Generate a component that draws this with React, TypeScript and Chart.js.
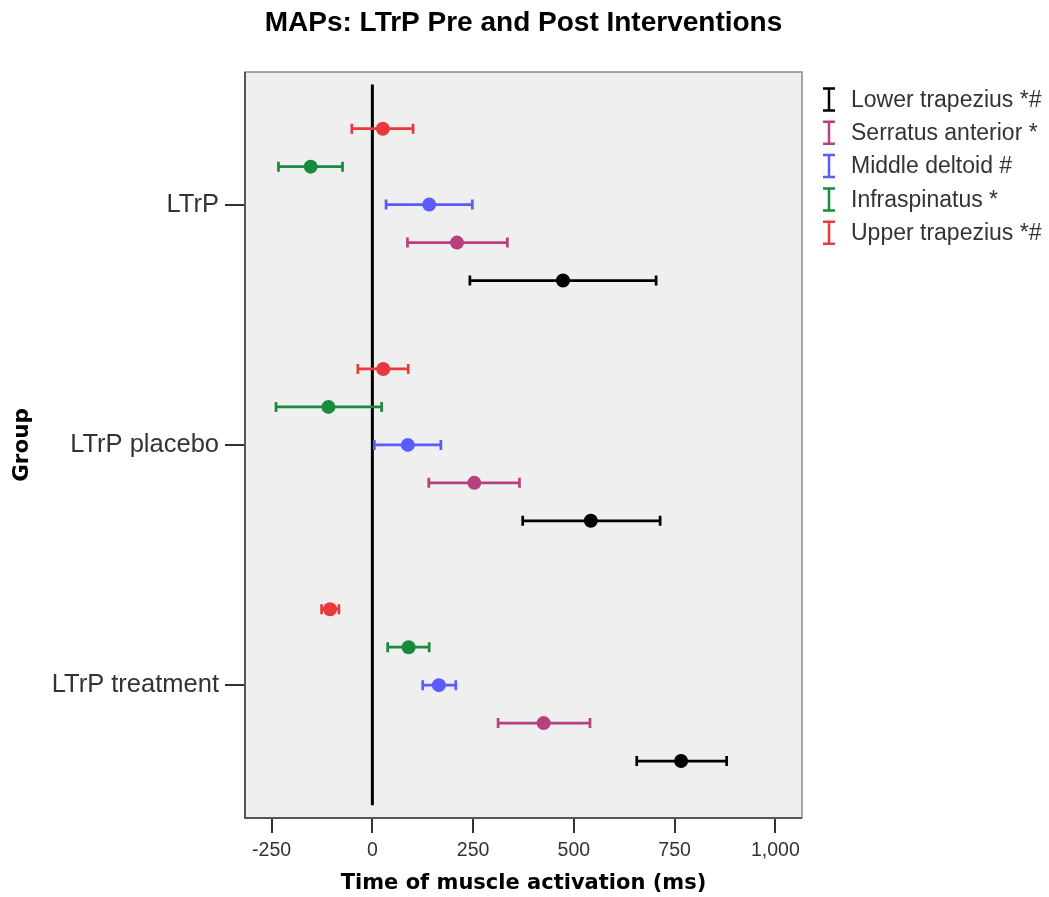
import React, { useEffect, useRef } from "react";
import { Chart, registerables } from "chart.js";

Chart.register(...registerables);

// ---- Data ----
const groups = ["LTrP", "LTrP placebo", "LTrP treatment"];
// series drawn top-to-bottom within each group
const seriesNames = ["Upper trapezius *#", "Infraspinatus *", "Middle deltoid #", "Serratus anterior *", "Lower trapezius *#"];
const seriesColors = ["#e8393c", "#1a8a3f", "#5b5bff", "#b7417f", "#000000"];
// values per group: [LTrP, LTrP placebo, LTrP treatment]
const upperTrapMean = [26, 27, -105];
const upperTrapLow = [-51, -36, -126];
const upperTrapHigh = [101, 89, -83];
const infraMean = [-153, -109, 90];
const infraLow = [-233, -239, 38];
const infraHigh = [-74, 23, 141];
const midDeltMean = [141, 88, 165];
const midDeltLow = [34, 5, 125];
const midDeltHigh = [248, 170, 207];
const serratusMean = [210, 253, 425];
const serratusLow = [87, 140, 312];
const serratusHigh = [335, 365, 540];
const lowerTrapMean = [473, 542, 766];
const lowerTrapLow = [242, 373, 656];
const lowerTrapHigh = [704, 714, 879];
const legendOrder = [4, 3, 2, 1, 0];
const xTicks = [-250, 0, 250, 500, 750, 1000];

const means = [upperTrapMean, infraMean, midDeltMean, serratusMean, lowerTrapMean];
const lows = [upperTrapLow, infraLow, midDeltLow, serratusLow, lowerTrapLow];
const highs = [upperTrapHigh, infraHigh, midDeltHigh, serratusHigh, lowerTrapHigh];

const OFFSET = 0.158;
const yPos = (g: number, s: number) => g + (s - 2) * OFFSET;

export default function App() {
  const ref = useRef<HTMLCanvasElement | null>(null);

  useEffect(() => {
    if (!ref.current) return;

    const datasets: any[] = means.map((m, s) => ({
      label: seriesNames[s],
      data: m.map((v, g) => ({ x: v, y: yPos(g, s) })),
      backgroundColor: seriesColors[s],
      borderColor: seriesColors[s],
      pointRadius: 7,
      pointHoverRadius: 7,
      pointBorderWidth: 0,
      showLine: false,
      order: 1,
    }));
    datasets.push({
      label: "zero",
      data: [{ x: 0, y: -0.5 }, { x: 0, y: 2.5 }],
      showLine: true,
      borderColor: "#000",
      borderWidth: 3,
      pointRadius: 0,
      order: 10,
    });

    const framePlugin = {
      id: "frame",
      beforeDraw(chart: any) {
        const { ctx, chartArea: a } = chart;
        ctx.save();
        ctx.fillStyle = "#efefef";
        ctx.fillRect(a.left, a.top, a.right - a.left, a.bottom - a.top);
        ctx.restore();
      },
      beforeDatasetsDraw(chart: any) {
        const { ctx, chartArea: a } = chart;
        ctx.save();
        ctx.strokeStyle = "#8a8a8a";
        ctx.lineWidth = 1.5;
        ctx.strokeRect(a.left, a.top, a.right - a.left, a.bottom - a.top);
        ctx.strokeStyle = "#555";
        ctx.lineWidth = 2;
        ctx.beginPath();
        ctx.moveTo(a.left, a.top);
        ctx.lineTo(a.left, a.bottom);
        ctx.lineTo(a.right, a.bottom);
        ctx.stroke();
        ctx.restore();
      },
      beforeDatasetDraw(chart: any, args: any) {
        const s = args.index;
        if (s >= means.length) return;
        const { ctx } = chart;
        const xs = chart.scales.x;
        const ys = chart.scales.y;
        ctx.save();
        ctx.strokeStyle = seriesColors[s];
        ctx.lineWidth = 2.7;
        for (let g = 0; g < groups.length; g++) {
          const y = ys.getPixelForValue(yPos(g, s));
          const x1 = xs.getPixelForValue(lows[s][g]);
          const x2 = xs.getPixelForValue(highs[s][g]);
          ctx.beginPath();
          ctx.moveTo(x1, y);
          ctx.lineTo(x2, y);
          ctx.moveTo(x1, y - 5);
          ctx.lineTo(x1, y + 5);
          ctx.moveTo(x2, y - 5);
          ctx.lineTo(x2, y + 5);
          ctx.stroke();
        }
        ctx.restore();
      },
      afterDraw(chart: any) {
        const { ctx } = chart;
        ctx.save();
        ctx.font = "23px 'Liberation Sans', Arial, sans-serif";
        ctx.textBaseline = "middle";
        ctx.textAlign = "left";
        legendOrder.forEach((s, i) => {
          const cy = 99.5 + i * 33.3;
          const cx = 829;
          ctx.strokeStyle = seriesColors[s];
          ctx.lineWidth = 2.5;
          ctx.beginPath();
          ctx.moveTo(cx, cy - 11);
          ctx.lineTo(cx, cy + 11);
          ctx.moveTo(cx - 6, cy - 11);
          ctx.lineTo(cx + 6, cy - 11);
          ctx.moveTo(cx - 6, cy + 11);
          ctx.lineTo(cx + 6, cy + 11);
          ctx.stroke();
          ctx.fillStyle = "#333";
          ctx.fillText(seriesNames[s], 851, cy + 1);
        });
        ctx.restore();
      },
    };

    const chart = new Chart(ref.current, {
      type: "scatter",
      data: { datasets },
      plugins: [framePlugin],
      options: {
        responsive: false,
        animation: false,
        layout: { padding: { left: 0, top: 0, right: 247, bottom: 0 } },
        plugins: {
          legend: { display: false },
          tooltip: { enabled: false },
          title: {
            display: true,
            text: "MAPs: LTrP Pre and Post Interventions",
            fullSize: false,
            color: "#000",
            font: { family: "'Liberation Sans', Arial, sans-serif", size: 28, weight: "bold", lineHeight: 1.2 },
            padding: { top: 6, bottom: 32.4 },
          },
        },
        scales: {
          x: {
            type: "linear",
            min: -316,
            max: 1066,
            afterBuildTicks: (scale: any) => {
              scale.ticks = xTicks.map((v) => ({ value: v }));
            },
            afterFit: (scale: any) => {
              scale.height = 79;
            },
            ticks: {
              color: "#333",
              padding: 6,
              maxRotation: 0,
              font: { family: "'Liberation Sans', Arial, sans-serif", size: 19.5 },
              callback: (v: any) => Number(v).toLocaleString("en-US"),
            },
            grid: { display: true, drawOnChartArea: false, drawTicks: true, tickLength: 15, color: "#333", lineWidth: 2 },
            border: { display: false },
            title: {
              display: true,
              text: "Time of muscle activation (ms)",
              color: "#000",
              font: { family: "'DejaVu Sans', sans-serif", size: 21, weight: "bold", lineHeight: 1.2 },
              padding: { top: 0, bottom: 1 },
            },
          },
          y: {
            type: "linear",
            reverse: true,
            min: -0.552,
            max: 2.553,
            afterBuildTicks: (scale: any) => {
              scale.ticks = groups.map((_, i) => ({ value: i }));
            },
            afterFit: (scale: any) => {
              scale.width = 245;
            },
            ticks: {
              color: "#333",
              padding: 6,
              font: { family: "'Liberation Sans', Arial, sans-serif", size: 25.5 },
              callback: (v: any) => groups[Math.round(Number(v))] ?? "",
            },
            grid: { display: true, drawOnChartArea: false, drawTicks: true, tickLength: 20, color: "#333", lineWidth: 2 },
            border: { display: false },
            title: {
              display: true,
              text: "Group",
              color: "#000",
              font: { family: "'DejaVu Sans', sans-serif", size: 21.5, weight: "bold", lineHeight: 1.2 },
              padding: { top: 10, bottom: 0 },
            },
          },
        },
      },
    });
    return () => chart.destroy();
  }, []);

  return (
    <div style={{ position: "absolute", left: 0, top: 0, width: 1049, height: 897, background: "#fff" }}>
      <canvas ref={ref} width={1049} height={897} style={{ width: 1049, height: 897, display: "block" }} />
    </div>
  );
}
